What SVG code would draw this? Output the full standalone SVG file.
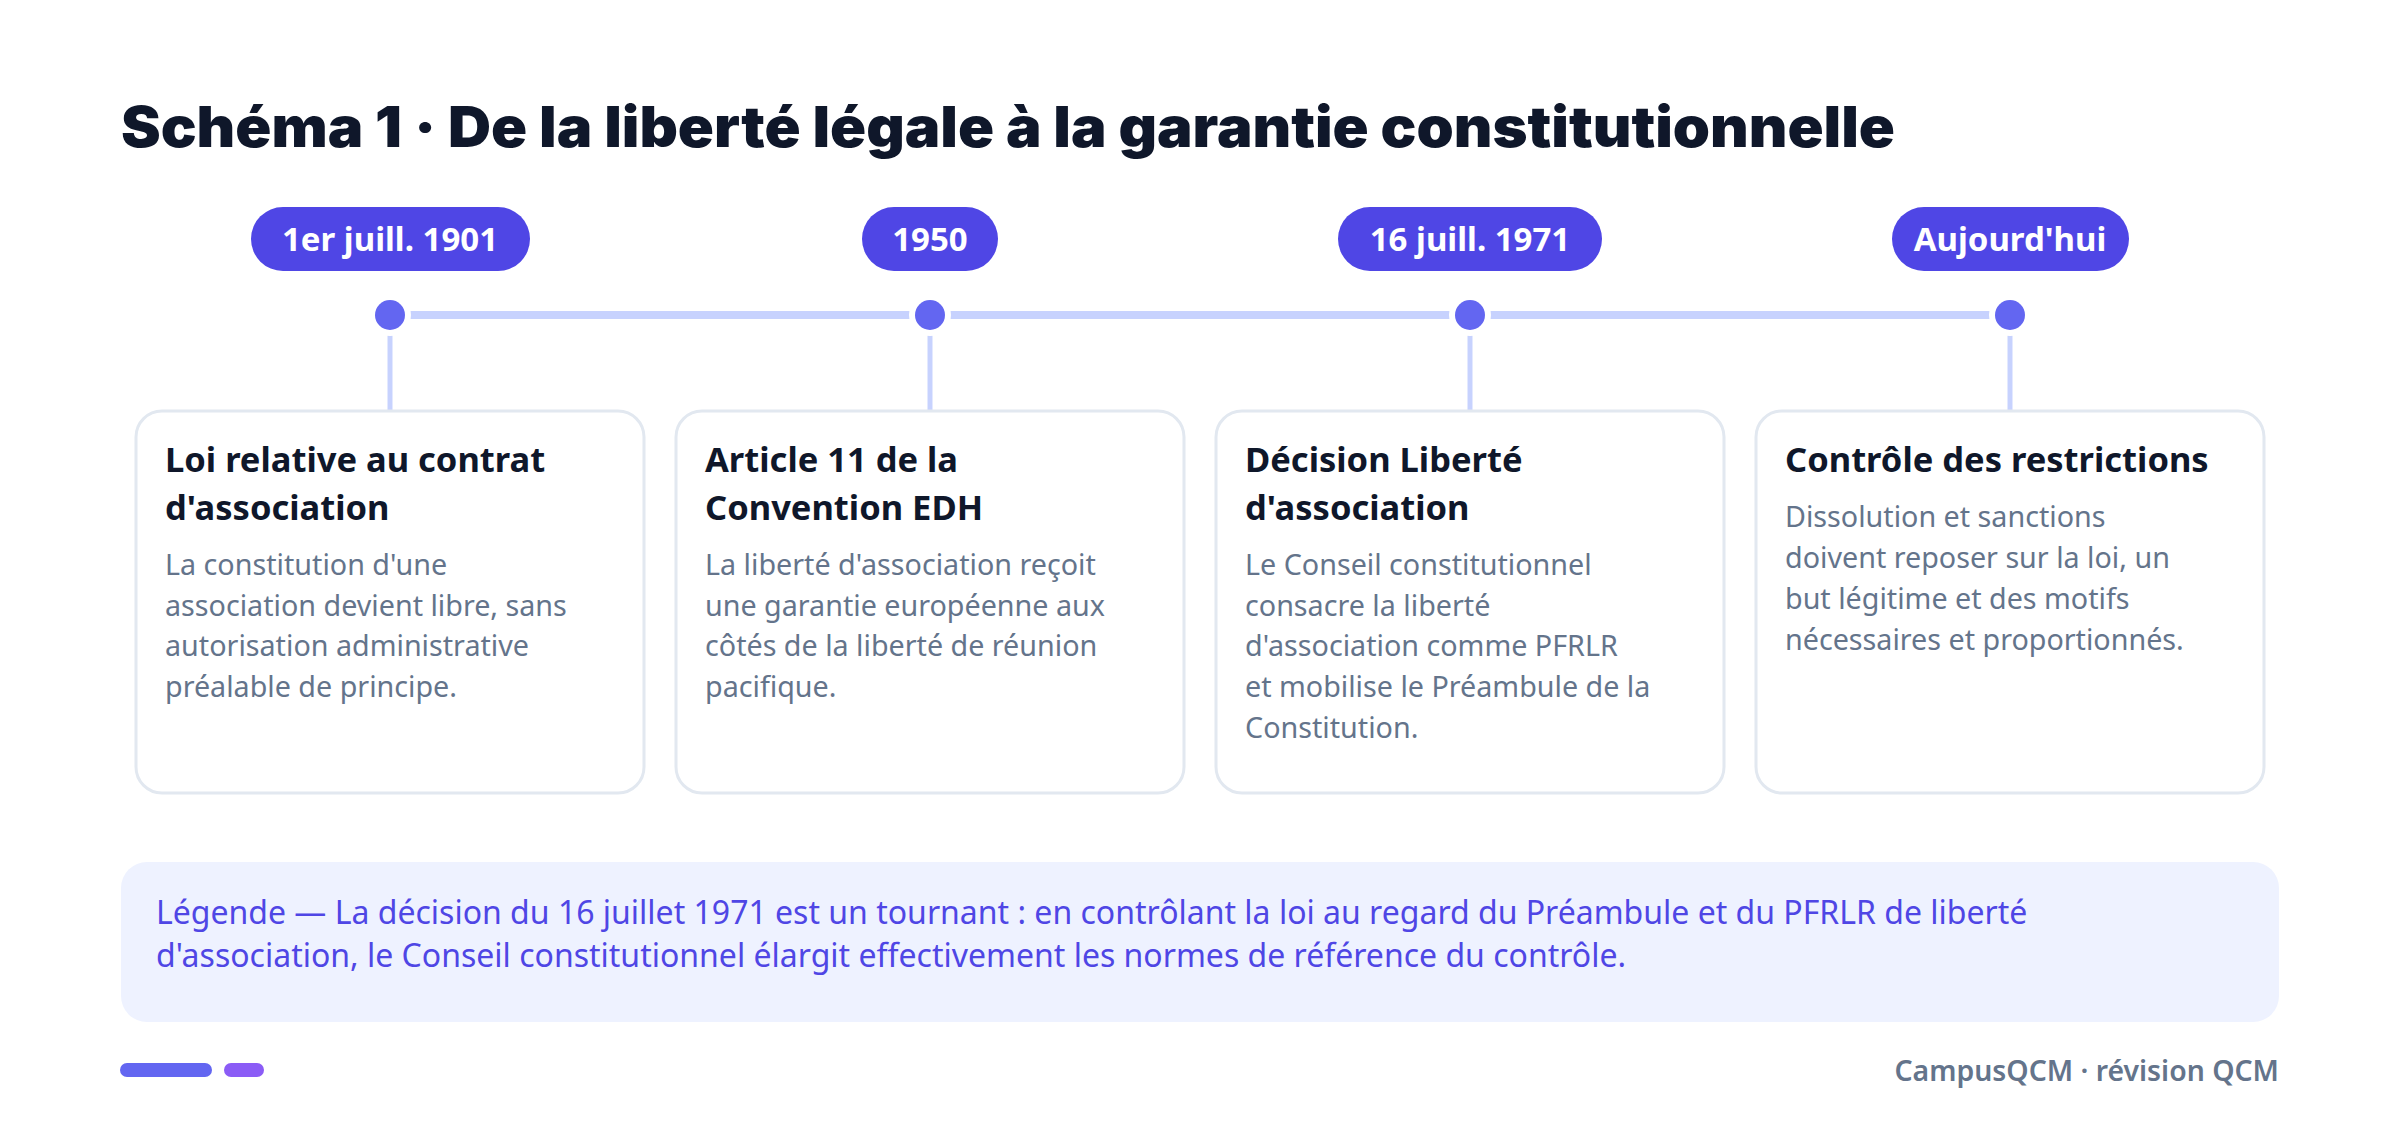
<svg xmlns="http://www.w3.org/2000/svg" width="2400" height="1131" viewBox="0 0 2400 1131">
<style>
.title{font-family:"Inter","Noto Sans",sans-serif;font-weight:900;font-size:56px;fill:#0F172A}
.pill{fill:#4F46E5}
.pilltxt{font-family:"Noto Sans",sans-serif;font-weight:700;font-size:33px;fill:#FFFFFF;text-anchor:middle}
.card{fill:#FFFFFF;stroke:#E2E8F0;stroke-width:3}
.ctitle{font-family:"Noto Sans",sans-serif;font-weight:700;font-size:34.5px;fill:#0F172A}
.cbody{font-family:"Noto Sans",sans-serif;font-size:28.7px;fill:#64748B}
.halo{fill:#FFFFFF}
.dot{fill:#6366F1}
.axis{stroke:#C7D2FE;stroke-width:8;fill:none}
.stem{stroke:#C7D2FE;stroke-width:5;fill:none}
.legend{fill:#EEF2FF}
.legtxt{font-family:"Noto Sans",sans-serif;font-size:32px;fill:#4F46E5}
.foot{font-family:"Noto Sans",sans-serif;font-weight:600;font-size:28.4px;fill:#64748B;text-anchor:end}
</style>
<rect width="2400" height="1131" fill="#FFFFFF"/>
<text class="title" x="121" y="147" textLength="1774" lengthAdjust="spacingAndGlyphs">Schéma 1 · De la liberté légale à la garantie constitutionnelle</text>

<g id="connectors">
<line class="axis" x1="390" y1="315" x2="2010" y2="315"/>
<line class="stem" x1="390" y1="333" x2="390" y2="410"/>
<line class="stem" x1="930" y1="333" x2="930" y2="410"/>
<line class="stem" x1="1470" y1="333" x2="1470" y2="410"/>
<line class="stem" x1="2010" y1="333" x2="2010" y2="410"/>
</g>

<g id="node-1901">
<rect class="pill" x="251" y="207" width="279" height="64" rx="32"/>
<text class="pilltxt" x="390" y="251">1er juill. 1901</text>
<circle class="halo" cx="390" cy="315" r="21"/>
<circle class="dot" cx="390" cy="315" r="15"/>
<rect class="card" x="136" y="411" width="508" height="382" rx="26"/>
<text class="ctitle" x="165" y="472">Loi relative au contrat</text>
<text class="ctitle" x="165" y="520">d'association</text>
<text class="cbody" x="165" y="575">La constitution d'une</text>
<text class="cbody" x="165" y="616">association devient libre, sans</text>
<text class="cbody" x="165" y="656">autorisation administrative</text>
<text class="cbody" x="165" y="697">préalable de principe.</text>
</g>

<g id="node-1950">
<rect class="pill" x="862" y="207" width="136" height="64" rx="32"/>
<text class="pilltxt" x="930" y="251">1950</text>
<circle class="halo" cx="930" cy="315" r="21"/>
<circle class="dot" cx="930" cy="315" r="15"/>
<rect class="card" x="676" y="411" width="508" height="382" rx="26"/>
<text class="ctitle" x="705" y="472">Article 11 de la</text>
<text class="ctitle" x="705" y="520">Convention EDH</text>
<text class="cbody" x="705" y="575">La liberté d'association reçoit</text>
<text class="cbody" x="705" y="616">une garantie européenne aux</text>
<text class="cbody" x="705" y="656">côtés de la liberté de réunion</text>
<text class="cbody" x="705" y="697">pacifique.</text>
</g>

<g id="node-1971">
<rect class="pill" x="1338" y="207" width="264" height="64" rx="32"/>
<text class="pilltxt" x="1470" y="251">16 juill. 1971</text>
<circle class="halo" cx="1470" cy="315" r="21"/>
<circle class="dot" cx="1470" cy="315" r="15"/>
<rect class="card" x="1216" y="411" width="508" height="382" rx="26"/>
<text class="ctitle" x="1245" y="472">Décision Liberté</text>
<text class="ctitle" x="1245" y="520">d'association</text>
<text class="cbody" x="1245" y="575">Le Conseil constitutionnel</text>
<text class="cbody" x="1245" y="616">consacre la liberté</text>
<text class="cbody" x="1245" y="656">d'association comme PFRLR</text>
<text class="cbody" x="1245" y="697">et mobilise le Préambule de la</text>
<text class="cbody" x="1245" y="738">Constitution.</text>
</g>

<g id="node-today">
<rect class="pill" x="1892" y="207" width="237" height="64" rx="32"/>
<text class="pilltxt" x="2010" y="251">Aujourd'hui</text>
<circle class="halo" cx="2010" cy="315" r="21"/>
<circle class="dot" cx="2010" cy="315" r="15"/>
<rect class="card" x="1756" y="411" width="508" height="382" rx="26"/>
<text class="ctitle" x="1785" y="472">Contrôle des restrictions</text>
<text class="cbody" x="1785" y="527">Dissolution et sanctions</text>
<text class="cbody" x="1785" y="568">doivent reposer sur la loi, un</text>
<text class="cbody" x="1785" y="609">but légitime et des motifs</text>
<text class="cbody" x="1785" y="650">nécessaires et proportionnés.</text>
</g>

<g id="legend">
<rect class="legend" x="121" y="862" width="2158" height="160" rx="26"/>
<text class="legtxt" x="156" y="924">Légende — La décision du 16 juillet 1971 est un tournant : en contrôlant la loi au regard du Préambule et du PFRLR de liberté</text>
<text class="legtxt" x="156" y="967">d'association, le Conseil constitutionnel élargit effectivement les normes de référence du contrôle.</text>
</g>

<g id="footer">
<rect x="120" y="1063" width="92" height="14" rx="7" fill="#6366F1"/>
<rect x="224" y="1063" width="40" height="14" rx="7" fill="#8B5CF6"/>
<text class="foot" x="2279" y="1081">CampusQCM · révision QCM</text>
</g>
</svg>
